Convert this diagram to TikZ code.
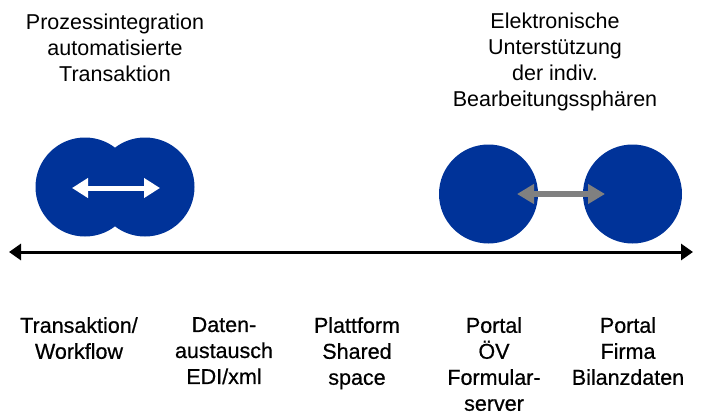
\documentclass[tikz,border=0pt]{standalone}
\usepackage{fontspec}
\setmainfont{Liberation Sans}
\newfontfamily\medfont[FakeBold=0.6]{Liberation Sans}
\usetikzlibrary{arrows.meta}
\definecolor{dblue}{RGB}{0,51,153}
\definecolor{agray}{RGB}{128,128,128}
\begin{document}
\begin{tikzpicture}[x=1pt,y=-1pt,
  toplabel/.style={align=center,inner sep=0pt,anchor=north,font=\fontsize{21.5}{26}\selectfont},
  botlabel/.style={align=center,inner sep=0pt,anchor=north,font=\medfont\fontsize{21.5}{26}\selectfont},
  disc/.style={circle,fill=dblue,minimum size=99pt,inner sep=0pt},
  axisline/.style={line width=3pt,{Triangle[width=16pt,length=12pt]}-{Triangle[width=16pt,length=12pt]}}
]
\useasboundingbox (0,0) rectangle (702,415);
% top labels
\node[toplabel] (tl) at (115,14) {Prozessintegration\\automatisierte\\Transaktion};
\node[toplabel] (tr) at (555,13) {Elektronische\\Unterstützung\\der indiv.\\Bearbeitungssphären};
% discs
\node[disc] (c1) at (85,187) {};
\node[disc] (c2) at (145,187) {};
\node[disc] (c3) at (488.5,194) {};
\node[disc] (c4) at (632.5,194) {};
% arrows
\coordinate (w1) at (72,188);
\coordinate (w2) at (160,188);
\draw[white,line width=5pt,{Triangle[width=19pt,length=16pt]}-{Triangle[width=19pt,length=16pt]}] (w1) -- (w2);
\coordinate (g1) at (517,194);
\coordinate (g2) at (605,194);
\draw[agray,line width=6pt,{Triangle[width=19pt,length=17pt]}-{Triangle[width=19pt,length=17pt]}] (g1) -- (g2);
% axis
\coordinate (a1) at (9,252);
\coordinate (a2) at (693,252);
\draw[axisline] (a1) -- (a2);
% bottom labels
\node[botlabel] (b1) at (79,317) {Transaktion/\\Workflow};
\node[botlabel] (b2) at (224,317) {Daten-\\austausch\\EDI/xml};
\node[botlabel] (b3) at (357,317) {Plattform\\Shared\\space};
\node[botlabel] (b4) at (494,317) {Portal\\ÖV\\Formular-\\server};
\node[botlabel] (b5) at (628,317) {Portal\\Firma\\Bilanzdaten};
\end{tikzpicture}
\end{document}
